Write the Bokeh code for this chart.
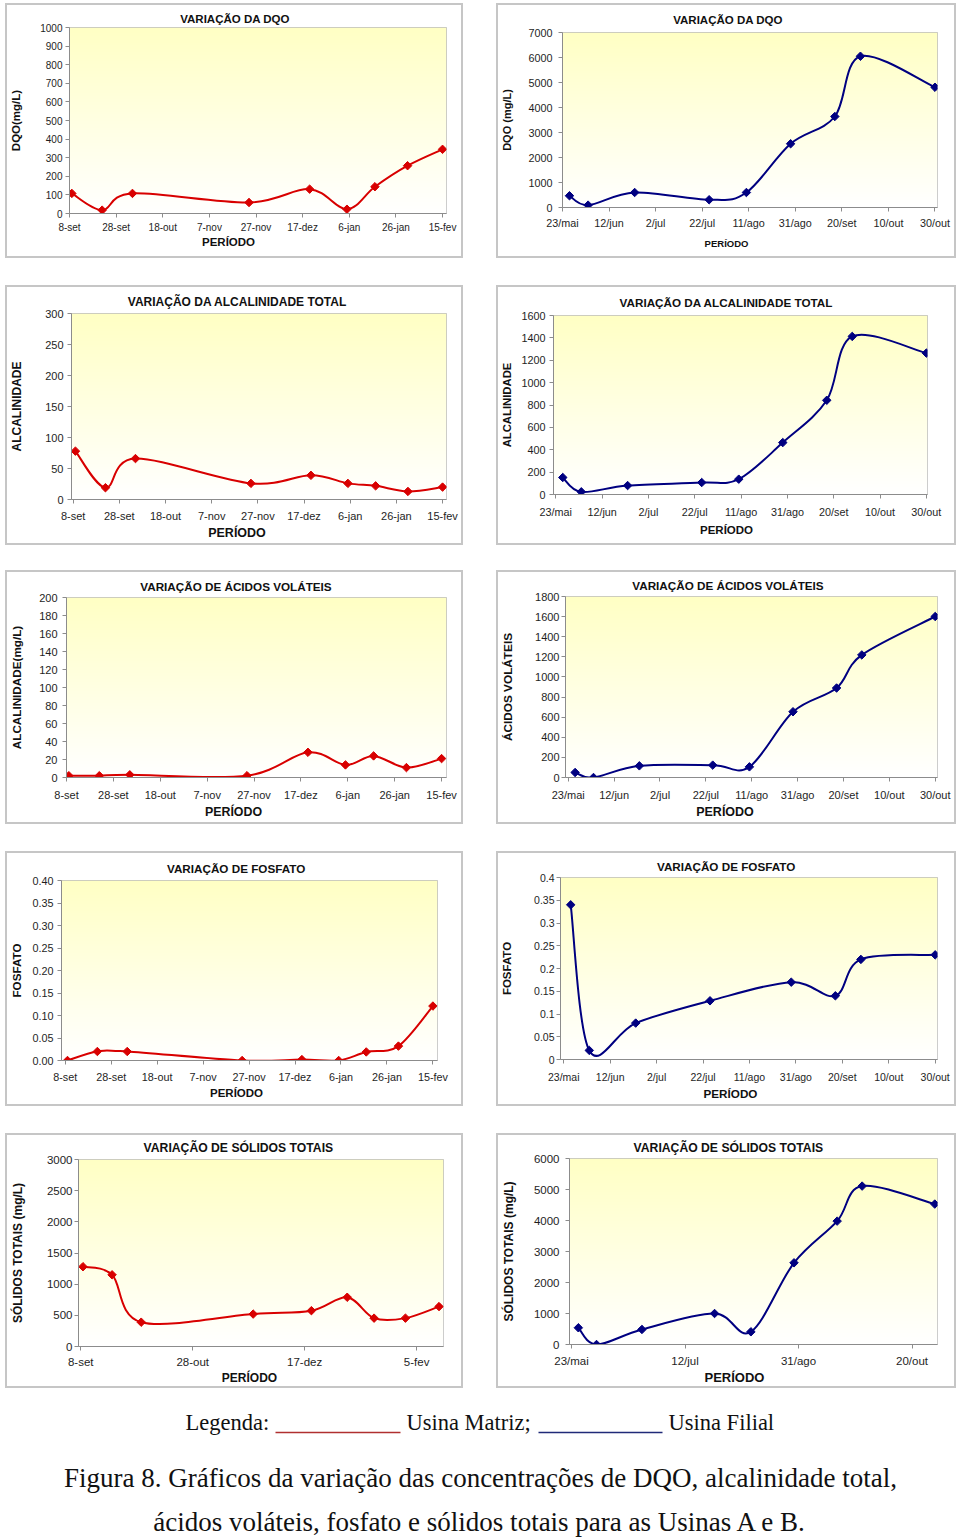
import numpy as np
from bokeh.plotting import figure
from bokeh.models import Range1d, FixedTicker, Title, Spacer
from bokeh.layouts import row, column
from bokeh.embed import file_html
from bokeh.resources import INLINE
from bokeh.core.properties import value

# ---------------- data ----------------
# sampling days (days after 8-set for Usina Matriz, after 23/mai for Usina Filial)
MATRIZ_DIAS = [1, 14, 27, 77, 103, 119, 131, 145, 160]
FILIAL_DIAS = [3, 11, 31, 63, 79, 98, 117, 128, 160]
FILIAL_DIAS_FOSFATO = [3, 11, 31, 63, 98, 117, 128, 160]

DQO_MATRIZ = [108, 18, 108, 59, 131, 23, 144, 257, 345]
DQO_FILIAL = [470, 95, 600, 310, 600, 2550, 3640, 6050, 4810]
ALC_MATRIZ = [78, 19, 66, 26, 39, 26, 22, 13, 20]
ALC_FILIAL = [152, 24, 80, 107, 137, 464, 842, 1413, 1264]
AV_MATRIZ = [2, 2, 3, 2, 28, 14, 24, 11, 21]
AV_FILIAL = [50, 0, 116, 123, 106, 654, 890, 1219, 1601]
FOS_MATRIZ = [0.000, 0.020, 0.020, 0.000, 0.002, 0.000, 0.019, 0.032, 0.121]
FOS_FILIAL = [0.340, 0.020, 0.080, 0.129, 0.170, 0.140, 0.220, 0.230]
ST_MATRIZ = [1280, 1150, 390, 520, 575, 790, 455, 455, 640]
ST_FILIAL = [540, 0, 485, 1000, 410, 2635, 3980, 5110, 4530]

X_TICKS_20 = [0, 20, 40, 60, 80, 100, 120, 140, 160]
X_TICKS_50 = [0, 50, 100, 150]
MATRIZ_XLAB = ["8-set", "28-set", "18-out", "7-nov", "27-nov", "17-dez", "6-jan", "26-jan", "15-fev"]
MATRIZ_XLAB_ST = ["8-set", "28-out", "17-dez", "5-fev"]
FILIAL_XLAB = ["23/mai", "12/jun", "2/jul", "22/jul", "11/ago", "31/ago", "20/set", "10/out", "30/out"]
FILIAL_XLAB_ST = ["23/mai", "12/jul", "31/ago", "20/out"]

Y_DQO_M = [0, 100, 200, 300, 400, 500, 600, 700, 800, 900, 1000]
Y_DQO_F = [0, 1000, 2000, 3000, 4000, 5000, 6000, 7000]
Y_ALC_M = [0, 50, 100, 150, 200, 250, 300]
Y_ALC_F = [0, 200, 400, 600, 800, 1000, 1200, 1400, 1600]
Y_AV_M = [0, 20, 40, 60, 80, 100, 120, 140, 160, 180, 200]
Y_AV_F = [0, 200, 400, 600, 800, 1000, 1200, 1400, 1600, 1800]
Y_FOS = [0, 0.05, 0.1, 0.15, 0.2, 0.25, 0.3, 0.35, 0.4]
Y_FOS_M_LAB = ["0.00", "0.05", "0.10", "0.15", "0.20", "0.25", "0.30", "0.35", "0.40"]
Y_FOS_F_LAB = ["0", "0.05", "0.1", "0.15", "0.2", "0.25", "0.3", "0.35", "0.4"]
Y_ST_M = [0, 500, 1000, 1500, 2000, 2500, 3000]
Y_ST_F = [0, 1000, 2000, 3000, 4000, 5000, 6000]

MATRIZ_COLOR = "#d80000"
FILIAL_COLOR = "#000080"

# ---------------- layout / style ----------------
BW = 2                      # chart-area border width
WL, WR = 458, 460           # outer widths of left / right chart areas
ROW_H = [255, 260, 254, 255, 255]
ROW_GAP = [27, 25, 27, 27]
FONT = "Liberation Sans"
SERIF = "Liberation Serif"

# Arial/Liberation Sans bold advance widths (per em) for title text placement
BOLD_W = {" ": .278, "A": .722, "C": .722, "D": .722, "E": .667, "F": .611, "I": .278,
          "L": .611, "N": .722, "O": .778, "P": .667, "Q": .778, "R": .722, "S": .667,
          "T": .611, "V": .667, "Ç": .722, "Ã": .722, "Ó": .778, "Á": .722, "Í": .278}
REG_W = {".": .278, "-": .333}


def bold_width(txt, fs):
    return sum(BOLD_W.get(c, .65) for c in txt) * fs


def reg_width(txt, fs):
    return sum(REG_W.get(c, .556) for c in txt) * fs


def gradient_image():
    n = 256
    t = np.linspace(0.0, 1.0, n)  # bottom -> top
    img = np.empty((n, 1), dtype=np.uint32)
    v = img.view(dtype=np.uint8).reshape((n, 1, 4))
    v[:, 0, 0] = 255
    v[:, 0, 1] = 255
    v[:, 0, 2] = np.round(255 - t * (255 - 196)).astype(np.uint8)
    v[:, 0, 3] = 255
    return img


def smooth(xs, ys):
    n = len(xs)
    out = dict(x0=[], y0=[], x1=[], y1=[], cx0=[], cy0=[], cx1=[], cy1=[])
    for i in range(n - 1):
        a = max(i - 1, 0)
        d = min(i + 2, n - 1)
        out["x0"].append(xs[i]); out["y0"].append(ys[i])
        out["x1"].append(xs[i + 1]); out["y1"].append(ys[i + 1])
        out["cx0"].append(xs[i] + (xs[i + 1] - xs[a]) / 6.0)
        out["cy0"].append(ys[i] + (ys[i + 1] - ys[a]) / 6.0)
        out["cx1"].append(xs[i + 1] - (xs[d] - xs[i]) / 6.0)
        out["cy1"].append(ys[i + 1] - (ys[d] - ys[i]) / 6.0)
    return out


def panel(s, Wout, Hout):
    W, H = Wout - 2 * BW, Hout - 2 * BW
    # positions given relative to the outer edge of the chart-area border
    fl, ft, fr, fb = [v - BW for v in s["frame"]]
    x0, x1 = s["xr"]
    y0, y1 = s["yr"]
    mb = H - fb

    p = figure(width=W, height=H, x_range=Range1d(x0, x1), y_range=Range1d(y0, y1),
               output_backend="svg", toolbar_location=None,
               min_border_left=fl, min_border_right=W - fr,
               min_border_top=ft, min_border_bottom=mb)
    p.grid.visible = False
    p.background_fill_color = "white"
    p.border_fill_color = "white"
    p.outline_line_color = "#bdbdbd"
    p.outline_line_width = 1

    p.image_rgba(image=[gradient_image()], x=x0, y=y0, dw=x1 - x0, dh=y1 - y0)

    seg = smooth(s["xs"], s["ys"])
    p.bezier(x0=seg["x0"], y0=seg["y0"], x1=seg["x1"], y1=seg["y1"],
             cx0=seg["cx0"], cy0=seg["cy0"], cx1=seg["cx1"], cy1=seg["cy1"],
             line_color=s["color"], line_width=2)
    p.scatter(s["xs"], s["ys"], marker="square", size=6, angle=np.pi / 4,
              fill_color=s["color"], line_color=s["color"])

    xa, ya = p.xaxis[0], p.yaxis[0]
    xa.ticker = FixedTicker(ticks=s["xt"])
    xa.major_label_overrides = {t: l for t, l in zip(s["xt"], s["xl"])}
    ya.ticker = FixedTicker(ticks=s["yt"])
    ya.major_label_overrides = {t: l for t, l in zip(s["yt"], s["yl"])}
    tfs = s["tfs"]
    for ax in (xa, ya):
        ax.axis_line_color = "#8c8c8c"
        ax.major_tick_line_color = "#8c8c8c"
        ax.major_tick_out = 4
        ax.major_tick_in = 0
        ax.minor_tick_line_color = None
        ax.major_label_text_font = FONT
        ax.major_label_text_font_size = "%gpx" % tfs
        ax.major_label_text_color = "#1e1e1e"
    xa.major_label_standoff = int(round(s["xst"]))
    ya.major_label_standoff = int(round(s["yst"]))

    # y-axis title (bold, vertical), centred on the plot area
    yx, yfs = s["ylabel"]
    yx -= BW
    maxw = max(reg_width(l, tfs) for l in s["yl"])
    st = int(np.floor((fl - 4 - s["yst"] - maxw) - (yx + 0.6 * yfs))) - 1
    ya.axis_label = s["ylabel_text"]
    ya.axis_label_text_font = FONT
    ya.axis_label_text_font_style = "bold"
    ya.axis_label_text_font_size = "%gpx" % yfs
    ya.axis_label_text_color = "#111111"
    ya.axis_label_standoff = max(st, 0)

    # chart title, centred on the whole chart area
    tx, ty, tf = s["title"]
    tx -= BW; ty -= BW
    tw = bold_width(s["title_text"], tf)
    t_st = min(2 * (ft - ty - 0.57 * tf), ft - 1.2 * tf - 1)
    p.add_layout(Title(text=s["title_text"], align="left", offset=(tx - tw / 2) - fl,
                       standoff=max(0, t_st), text_font=FONT,
                       text_font_style="bold", text_font_size="%gpx" % tf,
                       text_color="#111111"), "above")

    # x-axis title
    lx, ly, lf = s["xlabel"]
    lx -= BW; ly -= BW
    lw = bold_width("PERÍODO", lf)
    axis_h = 4 + s["xst"] + 1.2 * tfs + 2.5
    top = ly - 0.545 * lf
    x_st = min(2 * (top - (fb + axis_h)), mb - axis_h - 1.2 * lf - 1)
    p.add_layout(Title(text="PERÍODO", align="left", offset=(lx - lw / 2) - fl,
                       vertical_align="top", standoff=max(0, x_st), text_font=FONT,
                       text_font_style="bold", text_font_size="%gpx" % lf,
                       text_color="#111111"), "below")

    return column(p, styles={"border": "%dpx solid #c6c6c6" % BW,
                             "box-sizing": "content-box"})


def lab(ticks):
    return [str(t) for t in ticks]


specs = [
    dict(frame=(62, 24, 441, 210), xr=(0, 161.7), yr=(0, 1000), xs=MATRIZ_DIAS, ys=DQO_MATRIZ,
         color=MATRIZ_COLOR, xt=X_TICKS_20, xl=MATRIZ_XLAB, yt=Y_DQO_M, yl=lab(Y_DQO_M),
         tfs=10, xst=4, yst=3, title=(228, 15, 11.5), title_text="VARIAÇÃO DA DQO",
         xlabel=(221, 238, 11.5), ylabel=(9.5, 11.5), ylabel_text="DQO(mg/L)"),
    dict(frame=(65, 29, 441, 204), xr=(0, 161.1), yr=(0, 7000), xs=FILIAL_DIAS, ys=DQO_FILIAL,
         color=FILIAL_COLOR, xt=X_TICKS_20, xl=FILIAL_XLAB, yt=Y_DQO_F, yl=lab(Y_DQO_F),
         tfs=10.8, xst=5, yst=6, title=(231, 15, 11.5), title_text="VARIAÇÃO DA DQO",
         xlabel=(229, 240, 9.5), ylabel=(11, 11), ylabel_text="DQO (mg/L)"),
    dict(frame=(62, 27, 441, 214), xr=(-0.7, 161.7), yr=(0, 300), xs=MATRIZ_DIAS, ys=ALC_MATRIZ,
         color=MATRIZ_COLOR, xt=X_TICKS_20, xl=MATRIZ_XLAB, yt=Y_ALC_M, yl=lab(Y_ALC_M),
         tfs=11, xst=6, yst=4, title=(229, 15, 12), title_text="VARIAÇÃO DA ALCALINIDADE TOTAL",
         xlabel=(227.5, 248, 12.5), ylabel=(9, 12), ylabel_text="ALCALINIDADE"),
    dict(frame=(56, 30, 431, 209), xr=(-1.0, 160.5), yr=(0, 1600), xs=FILIAL_DIAS, ys=ALC_FILIAL,
         color=FILIAL_COLOR, xt=X_TICKS_20, xl=FILIAL_XLAB, yt=Y_ALC_F, yl=lab(Y_ALC_F),
         tfs=10.8, xst=7, yst=4, title=(230, 16, 11.7), title_text="VARIAÇÃO DA ALCALINIDADE TOTAL",
         xlabel=(229, 248, 11.5), ylabel=(11, 11.3), ylabel_text="ALCALINIDADE"),
    dict(frame=(58, 27, 441, 207), xr=(0, 162.1), yr=(0, 200), xs=MATRIZ_DIAS, ys=AV_MATRIZ,
         color=MATRIZ_COLOR, xt=X_TICKS_20, xl=MATRIZ_XLAB, yt=Y_AV_M, yl=lab(Y_AV_M),
         tfs=11, xst=7, yst=5, title=(228, 15, 11.7), title_text="VARIAÇÃO DE ÁCIDOS VOLÁTEIS",
         xlabel=(225, 244, 12.4), ylabel=(9, 11.7), ylabel_text="ALCALINIDADE(mg/L)"),
    dict(frame=(67, 26, 441, 207), xr=(-1.2, 161), yr=(0, 1800), xs=FILIAL_DIAS, ys=AV_FILIAL,
         color=FILIAL_COLOR, xt=X_TICKS_20, xl=FILIAL_XLAB, yt=Y_AV_F, yl=lab(Y_AV_F),
         tfs=11, xst=7, yst=2, title=(230, 15, 11.7), title_text="VARIAÇÃO DE ÁCIDOS VOLÁTEIS",
         xlabel=(226.5, 244, 12.5), ylabel=(11, 11.8), ylabel_text="ÁCIDOS VOLÁTEIS"),
    dict(frame=(52, 29, 432, 209), xr=(-1.6, 162), yr=(0, 0.4), xs=MATRIZ_DIAS, ys=FOS_MATRIZ,
         color=MATRIZ_COLOR, xt=X_TICKS_20, xl=MATRIZ_XLAB, yt=Y_FOS, yl=Y_FOS_M_LAB,
         tfs=10.8, xst=6, yst=4, title=(228, 15, 11.7), title_text="VARIAÇÃO DE FOSFATO",
         xlabel=(227, 246, 11.5), ylabel=(8, 11.7), ylabel_text="FOSFATO"),
    dict(frame=(64, 26, 441, 208), xr=(-1.4, 161), yr=(0, 0.4), xs=FILIAL_DIAS_FOSFATO, ys=FOS_FILIAL,
         color=FILIAL_COLOR, xt=X_TICKS_20, xl=FILIAL_XLAB, yt=Y_FOS, yl=Y_FOS_F_LAB,
         tfs=10.5, xst=7, yst=2, title=(231, 14, 11.7), title_text="VARIAÇÃO DE FOSFATO",
         xlabel=(234, 246, 11.7), ylabel=(11, 11.5), ylabel_text="FOSFATO"),
    dict(frame=(68, 26, 438, 213), xr=(-1.0, 162), yr=(0, 3000), xs=MATRIZ_DIAS, ys=ST_MATRIZ,
         color=MATRIZ_COLOR, xt=X_TICKS_50, xl=MATRIZ_XLAB_ST, yt=Y_ST_M, yl=lab(Y_ST_M),
         tfs=11.5, xst=5, yst=2, title=(229, 15, 12.2), title_text="VARIAÇÃO DE SÓLIDOS TOTAIS",
         xlabel=(239, 244, 12), ylabel=(9, 12), ylabel_text="SÓLIDOS TOTAIS (mg/L)"),
    dict(frame=(71, 25, 441, 212), xr=(-0.9, 161.2), yr=(0, 6000), xs=FILIAL_DIAS, ys=ST_FILIAL,
         color=FILIAL_COLOR, xt=X_TICKS_50, xl=FILIAL_XLAB_ST, yt=Y_ST_F, yl=lab(Y_ST_F),
         tfs=11.5, xst=6, yst=6, title=(231, 14, 12.2), title_text="VARIAÇÃO DE SÓLIDOS TOTAIS",
         xlabel=(236, 245, 13), ylabel=(12, 12), ylabel_text="SÓLIDOS TOTAIS (mg/L)"),
]

rows = []
for i in range(5):
    left = panel(specs[2 * i], WL, ROW_H[i])
    right = panel(specs[2 * i + 1], WR, ROW_H[i])
    rows.append(row(Spacer(width=5, height=10), left, Spacer(width=33, height=10), right,
                    spacing=0))

# ---------------- caption ----------------
CH = 151
cap = figure(width=950, height=CH, x_range=Range1d(0, 950), y_range=Range1d(CH, 0),
             x_axis_type=None, y_axis_type=None, output_backend="svg",
             toolbar_location=None, min_border=0)
cap.grid.visible = False
cap.outline_line_color = None
cap.background_fill_color = "white"
cap.border_fill_color = "white"

LEG_Y = 34
cap.text(x=[185, 406, 668], y=[LEG_Y] * 3, text=["Legenda:", "Usina Matriz;", "Usina Filial"],
         text_font=value(SERIF), text_font_size="22.5px", text_align="left",
         text_baseline="middle", text_color="#111111")
cap.segment(x0=[275], y0=[LEG_Y + 10], x1=[400], y1=[LEG_Y + 10], line_color="#b03030", line_width=1.5)
cap.segment(x0=[538], y0=[LEG_Y + 10], x1=[662], y1=[LEG_Y + 10], line_color="#202a78", line_width=1.5)
cap.text(x=[480, 480], y=[89, 133],
         text=["Figura 8. Gráficos da variação das concentrações de DQO, alcalinidade total,",
               "ácidos voláteis, fosfato e sólidos totais para as Usinas A e B."],
         text_font=value(SERIF), text_font_size="27px", text_align="center",
         text_baseline="middle", text_color="#111111")

children = [Spacer(height=3, width=10)]
for i, r in enumerate(rows):
    children.append(r)
    if i < len(ROW_GAP):
        children.append(Spacer(height=ROW_GAP[i], width=10))
children.append(cap)
layout = column(*children, spacing=0)

open("out.html", "w").write(file_html(layout, INLINE))
